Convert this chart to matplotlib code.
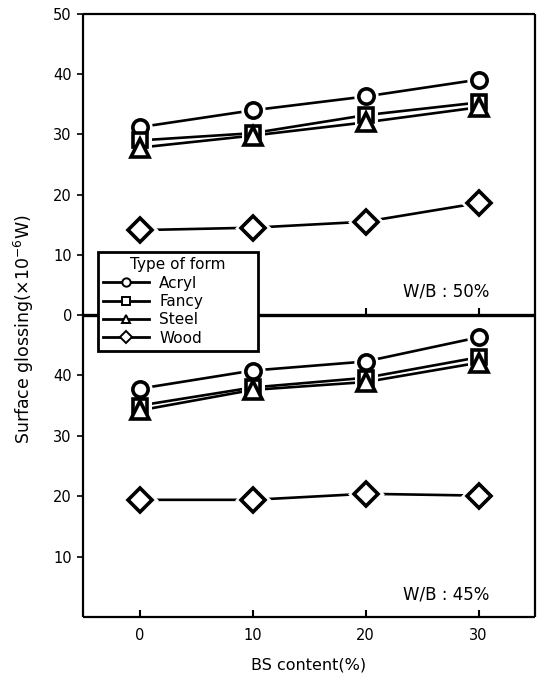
import matplotlib
matplotlib.use("Agg")
import matplotlib.pyplot as plt
from matplotlib.lines import Line2D

plt.rcParams['font.family'] = ['DejaVu Sans']
plt.rcParams['mathtext.fontset'] = 'dejavusans'

bs = [0, 10, 20, 30]
labels = ["Acryl", "Fancy", "Steel", "Wood"]
acryl_50 = [31.2, 34.0, 36.3, 39.1]
fancy_50 = [29.0, 30.2, 33.2, 35.3]
steel_50 = [27.8, 29.8, 32.0, 34.5]
wood_50 = [14.1, 14.5, 15.5, 18.6]
acryl_45 = [37.8, 40.8, 42.3, 46.3]
fancy_45 = [35.0, 38.0, 39.6, 43.0]
steel_45 = [34.2, 37.6, 38.9, 42.1]
wood_45 = [19.4, 19.4, 20.4, 20.1]

markers = ["o", "s", "^", "D"]
msizes = [11, 10, 13, 12]

fig = plt.figure(figsize=(5.38, 6.8), dpi=100)
L, R = 83 / 538, 535 / 538
ytop, ymid, ybot = 1 - 14 / 680, 1 - 315 / 680, 1 - 617 / 680
ax1 = fig.add_axes([L, ymid, R - L, ytop - ymid])
ax2 = fig.add_axes([L, ybot, R - L, ymid - ybot])
ax2.patch.set_visible(False)

def draw(ax, series):
    for vals, m, ms in zip(series, markers, msizes):
        ax.plot(bs, vals, color="black", lw=1.9, zorder=2)
        ax.plot(bs, vals, ls="none", marker=m, ms=ms, mfc="white",
                mec="white", mew=6.5, zorder=3)
        ax.plot(bs, vals, ls="none", marker=m, ms=ms, mfc="white",
                mec="black", mew=2.6, zorder=4)

draw(ax1, [acryl_50, fancy_50, steel_50, wood_50])
draw(ax2, [acryl_45, fancy_45, steel_45, wood_45])

for ax in (ax1, ax2):
    ax.set_xlim(-5, 35)
    ax.set_ylim(0, 50)
    for s in ax.spines.values():
        s.set_linewidth(1.6)
        s.set_capstyle("butt")
    ax.set_xticks(bs)
    ax.tick_params(axis="x", direction="in", length=5, width=1.5,
                   labelsize=10.5, pad=8)
    ax.tick_params(axis="y", direction="out", length=4, width=1.2,
                   labelsize=10.5, pad=4)

ax1.set_yticks([0, 10, 20, 30, 40, 50])
ax1.tick_params(axis="x", labelbottom=False)
ax2.set_yticks([10, 20, 30, 40])
ax2.spines["top"].set_visible(False)
ax1.spines["bottom"].set_linewidth(2.4)
ax2.set_xlabel("BS content(%)", fontsize=11.5, labelpad=10)

ax1.text(0.9, 0.078, "W/B : 50%", transform=ax1.transAxes, ha="right",
         va="center", fontsize=12)
ax2.text(0.9, 0.075, "W/B : 45%", transform=ax2.transAxes, ha="right",
         va="center", fontsize=12)

fig.text(24 / 538, 1 - 329 / 680, r"Surface glossing($\times$10$^{-6}$W)",
         rotation=90, ha="center", va="center", fontsize=12.5)

handles = [Line2D([], [], color="black", lw=2.0, marker=m, ms=6, mfc="white",
                  mec="black", mew=1.4) for m in markers]
leg = fig.legend(handles, labels, title="Type of form", loc="upper left",
                 bbox_to_anchor=(98 / 538, 1 - 252 / 680, 160 / 538, 0.0),
                 mode="expand", fontsize=11,
                 title_fontsize=11, frameon=True, fancybox=False,
                 framealpha=1, edgecolor="black", handlelength=3.0,
                 labelspacing=0.22, handletextpad=0.65, borderpad=0.35,
                 borderaxespad=0)
leg.get_frame().set_linewidth(2.0)

fig.savefig("out.png", dpi=100)
